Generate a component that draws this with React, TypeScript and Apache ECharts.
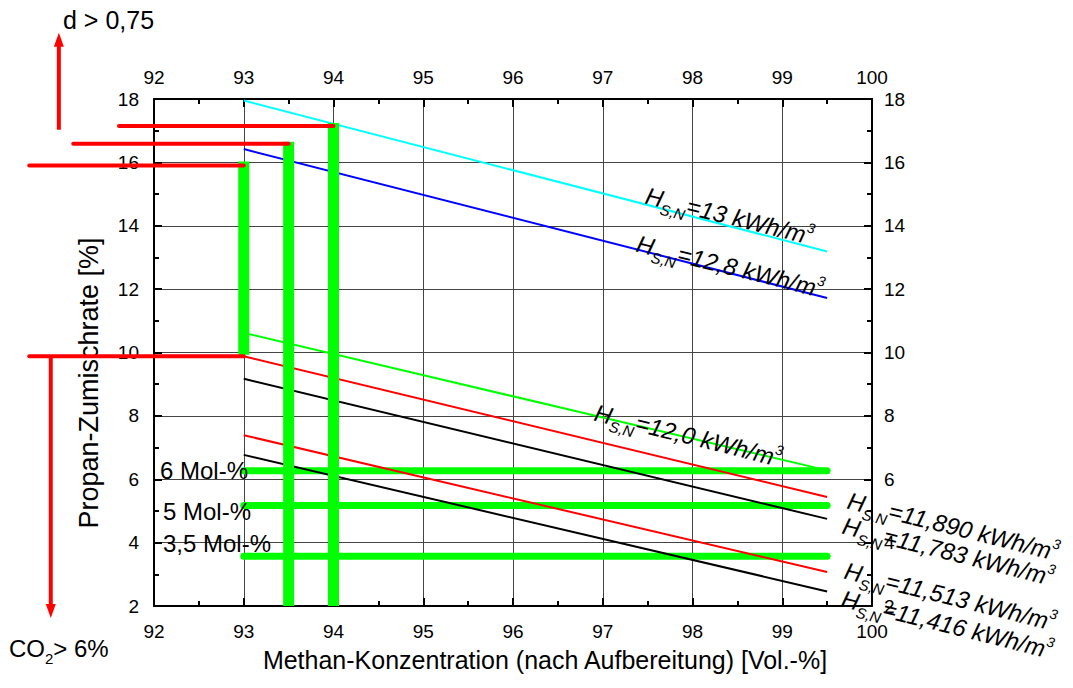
import React, { useEffect, useRef } from "react";
import * as echarts from "echarts";

const FONT = "Liberation Sans, Arial, sans-serif";

// Heating-value lines (x from 93 to 99.5)
const lineX = [93, 99.5];
const cyanY = [17.95, 13.19];
const blueY = [16.42, 11.72];
const greenY = [10.62, 6.28];
const red1Y = [9.88, 5.44];
const black1Y = [9.17, 4.75];
const red2Y = [7.39, 3.07];
const black2Y = [6.77, 2.46];

// Thick green construction lines
const molLevels = [6.27, 5.17, 3.57];
const molX = [93, 99.5];
const markX = [93, 93.5, 94];
const markTop = [16.03, 16.65, 17.24];
const markBottom = [9.93, 2, 2];

// Red guide lines (extend left of the plot)
const guideY = [15.9, 16.59, 17.15, 9.88];
const guideXStart = [90.61, 91.1, 91.61, 90.61];
const guideXEnd = [93, 93.5, 94, 93];

// Arrows: [x, from y, to y]
const arrowX = [90.94, 90.85];
const arrowFrom = [17.03, 9.88];
const arrowTo = [20.09, 1.62];

const hLabels = ["13", "12,8", "12,0", "11,890", "11,783", "11,513", "11,416"];
const hLabelPos = [
  [646, 195],
  [637, 243],
  [595, 412],
  [848, 500],
  [843, 525],
  [845, 570],
  [842, 598],
];
const molLabels = ["6 Mol-%", "5 Mol-%", "3,5 Mol-%"];
const molLabelPos = [
  [160, 470],
  [163, 511],
  [163, 543],
];

function pair(xs: number[], ys: number[]) {
  return xs.map((x, i) => [x, ys[i]]);
}

export default function App() {
  const ref = useRef<HTMLDivElement>(null);
  useEffect(() => {
    if (!ref.current) return;
    const chart = echarts.init(ref.current, null, { renderer: "svg" });

    const thin = (data: number[][], color: string) => ({
      type: "line",
      data,
      showSymbol: false,
      symbol: "none",
      clip: false,
      z: 3,
      lineStyle: { color, width: 2 },
      silent: true,
    });

    const series: any[] = [];
    molLevels.forEach((lv) => {
      series.push({
        type: "line",
        data: molX.map((x) => [x, lv]),
        symbol: "none",
        clip: false,
        z: 2,
        lineStyle: { color: "#00ff00", width: 7, cap: "round" },
      });
    });
    series.push(thin(pair(lineX, cyanY), "#00ffff"));
    series.push(thin(pair(lineX, blueY), "#0000ff"));
    series.push(thin(pair(lineX, greenY), "#00ff00"));
    series.push(thin(pair(lineX, red1Y), "#ff0000"));
    series.push(thin(pair(lineX, black1Y), "#000000"));
    series.push(thin(pair(lineX, red2Y), "#ff0000"));
    series.push(thin(pair(lineX, black2Y), "#000000"));
    markX.forEach((x, i) => {
      series.push({
        type: "line",
        data: [
          [x, markTop[i]],
          [x, markBottom[i]],
        ],
        symbol: "none",
        clip: false,
        z: 4,
        lineStyle: { color: "#00ff00", width: 11, cap: "butt" },
      });
    });
    // red guides via custom series (extrapolated coordinates outside the grid)
    series.push({
      type: "custom",
      clip: false,
      z: 5,
      data: guideY.map((y, i) => [guideXStart[i], guideXEnd[i], y]),
      encode: { x: [0, 1], y: 2 },
      renderItem: (params: any, api: any) => {
        const y = api.value(2);
        const p1 = api.coord([api.value(0), y]);
        const p2 = api.coord([api.value(1), y]);
        return {
          type: "line",
          shape: { x1: p1[0], y1: p1[1], x2: p2[0], y2: p2[1] },
          style: { stroke: "#ff0000", lineWidth: 4, lineCap: "round" },
        };
      },
    });
    series.push({
      type: "custom",
      clip: false,
      z: 5,
      data: arrowX.map((x, i) => [x, arrowFrom[i], arrowTo[i]]),
      encode: { x: 0, y: [1, 2] },
      renderItem: (params: any, api: any) => {
        const x = api.value(0);
        const p1 = api.coord([x, api.value(1)]);
        const p2 = api.coord([x, api.value(2)]);
        const dir = p2[1] < p1[1] ? -1 : 1;
        const headLen = 14;
        const half = 5;
        const baseY = p2[1] - dir * headLen;
        return {
          type: "group",
          children: [
            {
              type: "line",
              shape: { x1: p1[0], y1: p1[1], x2: p2[0], y2: baseY + dir * 2 },
              style: { stroke: "#ff0000", lineWidth: 4 },
            },
            {
              type: "polygon",
              shape: {
                points: [
                  [p2[0], p2[1]],
                  [p2[0] - half, baseY],
                  [p2[0] + half, baseY],
                ],
              },
              style: { fill: "#ff0000" },
            },
          ],
        };
      },
    });

    const richH = {
      h: { fontSize: 24, fontStyle: "italic", fontFamily: FONT, fill: "#000" },
      s: { fontSize: 15, fontStyle: "italic", fontFamily: FONT, padding: [20, 0, 0, 0] },
      m: { fontSize: 24, fontStyle: "italic", fontFamily: FONT },
      p: { fontSize: 14, fontStyle: "italic", fontFamily: FONT, padding: [0, 0, 16, 0] },
    };

    const graphic: any[] = [];
    hLabels.forEach((v, i) => {
      graphic.push({
        type: "text",
        x: hLabelPos[i][0],
        y: hLabelPos[i][1],
        rotation: -0.245,
        z: 10,
        style: {
          text: `{h|H}{s|S,N}{m|=${v} kWh/m}{p|3}`,
          rich: richH,
          fill: "#000",
          align: "left",
          verticalAlign: "middle",
        },
      });
    });
    molLabels.forEach((t, i) => {
      graphic.push({
        type: "text",
        x: molLabelPos[i][0],
        y: molLabelPos[i][1],
        z: 10,
        style: {
          text: t,
          fontSize: 24,
          fontFamily: FONT,
          fill: "#000",
          align: "left",
          verticalAlign: "middle",
        },
      });
    });
    graphic.push({
      type: "text",
      x: 63,
      y: 20,
      style: {
        text: "d > 0,75",
        fontSize: 25,
        fontFamily: FONT,
        fill: "#000",
        align: "left",
        verticalAlign: "middle",
      },
    });
    graphic.push({
      type: "text",
      x: 9,
      y: 648,
      style: {
        text: "{a|CO}{b|2}{a|> 6%}",
        rich: {
          a: { fontSize: 24, fontFamily: FONT },
          b: { fontSize: 15, fontFamily: FONT, padding: [20, 0, 0, 0] },
        },
        fill: "#000",
        align: "left",
        verticalAlign: "middle",
      },
    });
    graphic.push({
      type: "text",
      x: 545,
      y: 660,
      style: {
        text: "Methan-Konzentration (nach Aufbereitung) [Vol.-%]",
        fontSize: 25,
        fontFamily: FONT,
        fill: "#000",
        align: "center",
        verticalAlign: "middle",
      },
    });
    graphic.push({
      type: "text",
      x: 89,
      y: 383,
      rotation: Math.PI / 2,
      style: {
        text: "Propan-Zumischrate [%]",
        fontSize: 27,
        fontFamily: FONT,
        fill: "#000",
        align: "center",
        verticalAlign: "middle",
      },
    });

    const axisCommon = {
      type: "value",
      axisLine: { show: true, onZero: false, lineStyle: { color: "#000", width: 2 } },
      axisTick: { show: true, inside: true, length: 8, lineStyle: { color: "#000", width: 2 } },
      minorTick: { show: true, splitNumber: 2, length: 5, lineStyle: { color: "#000", width: 2 } },
      axisLabel: { color: "#000", fontSize: 19, fontFamily: FONT },
    };

    chart.setOption({
      animation: false,
      backgroundColor: "#fff",
      grid: { left: 154, right: 201, top: 99, bottom: 82, containLabel: false },
      xAxis: [
        {
          ...axisCommon,
          position: "bottom",
          min: 92,
          max: 100,
          interval: 1,
          axisLabel: { ...axisCommon.axisLabel, margin: 16 },
          splitLine: { show: true, lineStyle: { color: "#444", width: 1 } },
        },
        {
          ...axisCommon,
          position: "top",
          min: 92,
          max: 100,
          interval: 1,
          axisLabel: { ...axisCommon.axisLabel, margin: 12 },
          splitLine: { show: false },
        },
      ],
      yAxis: [
        {
          ...axisCommon,
          position: "left",
          min: 2,
          max: 18,
          interval: 2,
          axisLabel: { ...axisCommon.axisLabel, margin: 15 },
          splitLine: { show: true, lineStyle: { color: "#444", width: 1 } },
        },
        {
          ...axisCommon,
          position: "right",
          min: 2,
          max: 18,
          interval: 2,
          axisLabel: { ...axisCommon.axisLabel, margin: 12 },
          splitLine: { show: false },
        },
      ],
      series,
      graphic,
    });
    return () => chart.dispose();
  }, []);

  return (
    <div
      ref={ref}
      style={{ position: "absolute", left: 0, top: 0, width: 1073, height: 688, background: "#fff" }}
    />
  );
}
